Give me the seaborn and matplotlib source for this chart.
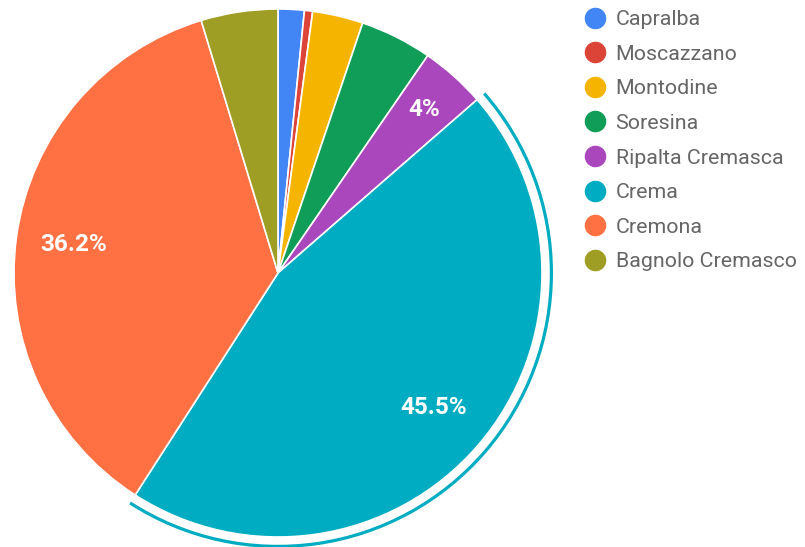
import numpy as np
import matplotlib
matplotlib.use("Agg")
import matplotlib.pyplot as plt
from matplotlib.patches import Wedge
from matplotlib.lines import Line2D
import seaborn as sns

categories = ["Capralba", "Moscazzano", "Montodine", "Soresina",
              "Ripalta Cremasca", "Crema", "Cremona", "Bagnolo Cremasco"]
values = [1.6, 0.5, 3.1, 4.4, 4.0, 45.5, 36.2, 4.7]
colors = ["#4285f4", "#db4437", "#f4b400", "#0f9d58",
          "#ab47bc", "#00acc1", "#ff7043", "#9e9d24"]
labeled = ["Ripalta Cremasca", "Crema", "Cremona"]
highlight = "Crema"

sns.set_theme(style="white")
plt.rcParams["font.family"] = ["Roboto", "DejaVu Sans"]
palette = sns.color_palette(colors)

W, H = 805, 547
cx, cy, R = 278, 273, 264
fig = plt.figure(figsize=(W / 100, H / 100), dpi=100)
ax = fig.add_axes([0, 0, 1, 1])

wedges, _ = ax.pie(values, colors=palette, startangle=90, counterclock=False,
                   wedgeprops=dict(edgecolor="white", linewidth=1.2))
ax.set_aspect("auto")
ax.set_xlim(-cx / R, (W - cx) / R)
ax.set_ylim(-(H - cy) / R, cy / R)
ax.axis("off")

total = float(np.sum(values))
cum = np.concatenate([[0], np.cumsum(values)]) / total
for i, name in enumerate(categories):
    a0 = 90 - 360 * cum[i]
    a1 = 90 - 360 * cum[i + 1]
    mid = np.deg2rad((a0 + a1) / 2)
    if name in labeled:
        pct = 100 * values[i] / total
        txt = f"{pct:.1f}".rstrip("0").rstrip(".") + "%"
        r = 0.83 if pct < 10 else 0.78
        ax.text(r * np.cos(mid), r * np.sin(mid), txt, color="white",
                fontsize=17.5, fontweight="bold", ha="center", va="center")
    if name == highlight:
        ring = Wedge((0, 0), 1 + 11 / R, a1, a0, width=3.2 / R,
                     facecolor=colors[i], edgecolor="none")
        ax.add_patch(ring)

handles = [Line2D([0], [0], marker="o", linestyle="none", markersize=14.5,
                  markerfacecolor=c, markeredgecolor=c) for c in colors]
leg = ax.legend(handles, categories, loc="upper left",
                bbox_to_anchor=(576 / W, 1 - 1.5 / H), frameon=False,
                fontsize=15.4, labelspacing=0.73, handletextpad=0.45,
                handlelength=1.0, borderaxespad=0)
for t in leg.get_texts():
    t.set_color("#666666")

fig.savefig("out.png", dpi=100)
